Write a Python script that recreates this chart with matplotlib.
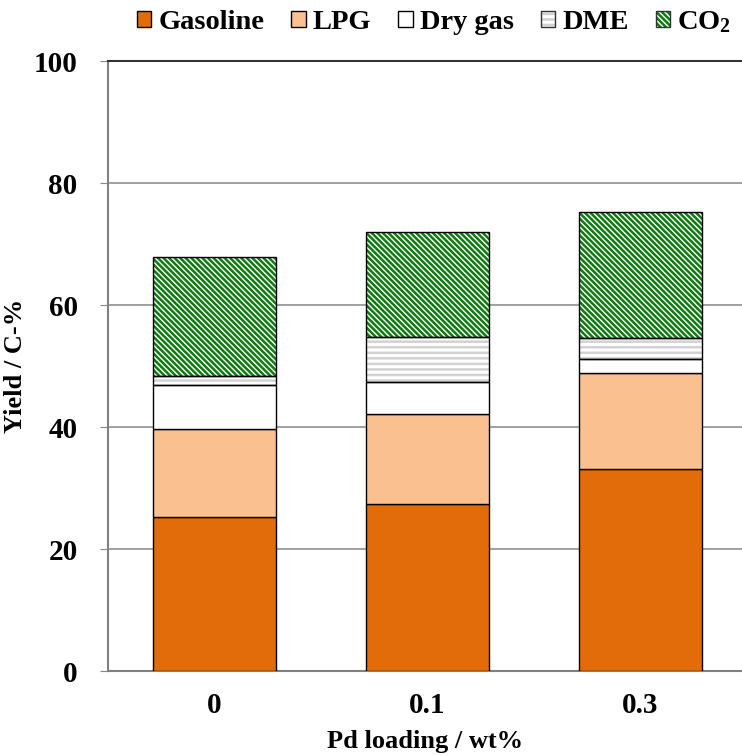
import matplotlib.pyplot as plt
import numpy as np
from matplotlib.patches import Patch

plt.rcParams['font.family'] = ['Liberation Serif', 'DejaVu Serif']
plt.rcParams['font.weight'] = 'bold'
plt.rcParams['axes.labelweight'] = 'bold'
plt.rcParams['mathtext.default'] = 'regular'
plt.rcParams['hatch.linewidth'] = 1.8

pd_loading = ['0', '0.1', '0.3']
gasoline = [25.2, 27.4, 33.1]
lpg = [14.5, 14.7, 15.8]
dry_gas = [7.2, 5.3, 2.2]
dme = [1.5, 7.4, 3.5]
co2 = [19.5, 17.2, 20.6]

series = [
    ('Gasoline', gasoline, '#E36C0A', None, None),
    ('LPG', lpg, '#FAC090', None, None),
    ('Dry gas', dry_gas, 'white', None, None),
    ('DME', dme, 'white', '---', '#d2d2d2'),
    ('CO$_2$', co2, 'white', '\\\\\\\\\\\\', '#0f7a0f'),
]

fig = plt.figure(figsize=(7.42, 7.55), dpi=100)
ax = fig.add_axes([108 / 742, 1 - 671 / 755, 1 - 108 / 742, (671 - 61) / 755])

x = np.arange(len(pd_loading))
width = 0.58
bottom = np.zeros(len(x))
handles = []
for name, vals, fc, hatch, hc in series:
    vals = np.array(vals)
    if hatch:
        # hatch layer first, then a plain black outline on top
        ax.bar(x, vals, width, bottom=bottom, color=fc, edgecolor=hc,
               hatch=hatch, linewidth=0, zorder=2)
        ax.bar(x, vals, width, bottom=bottom, color='none', edgecolor='black',
               linewidth=1.0, zorder=3)
        h = (Patch(facecolor=fc, edgecolor=hc, hatch=hatch, linewidth=0),
             Patch(facecolor='none', edgecolor='#333333', linewidth=1.0))
    else:
        ax.bar(x, vals, width, bottom=bottom, color=fc, edgecolor='black',
               linewidth=1.0, zorder=3)
        h = Patch(facecolor=fc, edgecolor='black', linewidth=1.0)
    handles.append(h)
    bottom += vals

ax.set_ylim(0, 100)
ax.set_xlim(-0.5, -0.5 + (742 - 108) / 213)
ax.set_yticks([0, 20, 40, 60, 80, 100])
ax.set_xticks(x)
ax.set_xticklabels(pd_loading)
ax.tick_params(axis='y', length=5.8, color='#888888', labelsize=21, pad=16)
ax.tick_params(axis='x', length=0, labelsize=21, pad=15)
ax.yaxis.grid(True, color='#999999', linewidth=1.3, zorder=0)
ax.set_axisbelow(True)

for s in ['left', 'bottom']:
    ax.spines[s].set_color('#808080')
    ax.spines[s].set_linewidth(1.5)
ax.spines['right'].set_visible(False)
ax.spines['top'].set_color('#333333')
ax.spines['top'].set_linewidth(1.5)

ax.set_ylabel('Yield / C-%', fontsize=19, labelpad=5)
ax.set_xlabel('Pd loading / wt%', fontsize=19, labelpad=8)

fig.legend(handles, [s[0] for s in series], loc='center', ncol=5,
           bbox_to_anchor=(0.585, 1 - 22 / 755), frameon=False, fontsize=20.5,
           handlelength=0.5, handleheight=0.5, handletextpad=0.25,
           columnspacing=0.95, borderaxespad=0)

fig.savefig('out.png', dpi=100)
